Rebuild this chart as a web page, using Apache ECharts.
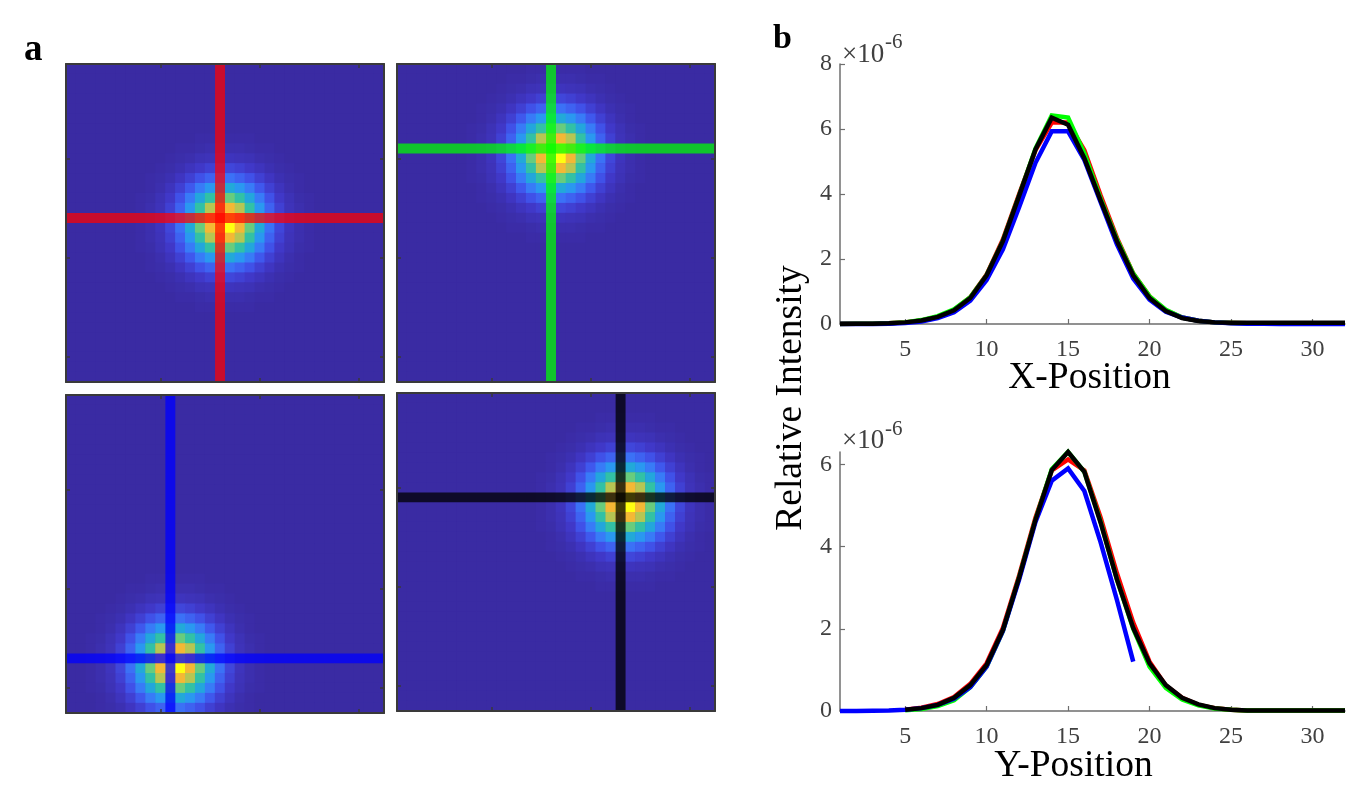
<!DOCTYPE html>
<html><head><meta charset="utf-8">
<style>html,body{margin:0;padding:0;background:#fff}#c{width:1346px;height:807px}</style>
<script src="https://cdn.jsdelivr.net/npm/echarts@6/dist/echarts.min.js"></script>
</head><body><div id="c"></div>
<script>
// Spot intensity (percent of peak), rows/cols -9..+8 around the brightest cell
const spotRows = [
 [0,0,0,0,0,0,1,1,1,1,1,1,0,0,0,0,0,0],
 [0,0,0,0,1,1,2,3,3,3,3,2,1,1,0,0,0,0],
 [0,0,0,1,2,3,5,6,7,7,6,5,3,2,1,0,0,0],
 [0,0,1,2,4,7,10,13,15,15,13,10,7,4,2,1,0,0],
 [0,1,2,4,8,13,19,24,27,28,24,19,13,8,4,2,1,0],
 [0,1,3,7,13,21,31,40,45,46,40,31,21,13,7,3,1,0],
 [1,2,5,10,19,31,45,58,65,67,58,45,31,19,10,5,2,1],
 [1,3,6,13,24,40,58,76,84,87,76,58,40,24,13,6,3,1],
 [1,3,7,15,27,45,65,84,94,97,84,65,45,27,15,7,3,1],
 [1,3,7,15,28,46,67,87,97,100,87,67,46,28,15,7,3,1],
 [1,3,6,13,24,40,58,76,84,87,76,58,40,24,13,6,3,1],
 [1,2,5,10,19,31,45,58,65,67,58,45,31,19,10,5,2,1],
 [0,1,3,7,13,21,31,40,45,46,40,31,21,13,7,3,1,0],
 [0,1,2,4,8,13,19,24,27,28,24,19,13,8,4,2,1,0],
 [0,0,1,2,4,7,10,13,15,15,13,10,7,4,2,1,0,0],
 [0,0,0,1,2,3,5,6,7,7,6,5,3,2,1,0,0,0],
 [0,0,0,0,1,1,2,3,3,3,3,2,1,1,0,0,0,0],
 [0,0,0,0,0,0,1,1,1,1,1,1,0,0,0,0,0,0]
];
const cells = Array.from({length:32},(_,i)=>String(i+1));
const peakCols = [16,16,11,23];   // 0-based column of brightest cell per panel
const peakRows = [16,9,27,11];    // 0-based row of brightest cell per panel
const crossCols = [15,15,10,22];
const crossRows = [15,8,26,10];
const crossColors = ['rgba(255,0,0,0.72)','rgba(0,255,0,0.72)','rgba(0,0,255,0.75)','rgba(0,0,0,0.75)'];
const palette = ['#3a2ba3','#4038c8','#4054ec','#3a78f8','#2a98f0','#1cb4c8','#38c49c','#7cd070','#dcc040','#ffb430','#ffff10'];

const position = [1,2,3,4,5,6,7,8,9,10,11,12,13,14,15,16,17,18,19,20,21,22,23,24,25,26,27,28,29,30,31,32];
const xRed   = [0,.005,.01,.02,.05,.11,.22,.43,.82,1.52,2.6,4.0,5.35,6.2,6.2,5.35,3.95,2.65,1.55,.85,.42,.2,.1,.05,.03,.02,.02,.02,.02,.02,.02,.02];
const xGreen = [0,.005,.01,.02,.05,.12,.24,.45,.82,1.5,2.55,3.95,5.4,6.42,6.35,5.25,3.85,2.6,1.55,.85,.44,.2,.1,.05,.03,.02,.02,.02,.02,.02,.02,.02];
const xBlue  = [0,0,0,.01,.03,.08,.18,.36,.72,1.35,2.3,3.6,4.96,5.93,5.93,5.05,3.75,2.45,1.4,.75,.38,.2,.1,.05,.02,.01,.01,0,0,0,0,0];
const xBlack = [.01,.01,.01,.02,.05,.11,.22,.42,.8,1.5,2.55,3.95,5.37,6.35,6.13,5.1,3.8,2.55,1.5,.8,.4,.18,.09,.05,.04,.04,.04,.04,.04,.04,.04,.04];
const yPos5 = position.slice(4);
const yRed   = [.03,.08,.17,.34,.66,1.16,2.02,3.3,4.7,5.85,6.12,5.85,4.7,3.35,2.15,1.2,.62,.32,.15,.07,.03,.015,.01,.01,.01,.01,.01,.01];
const yGreen = [.02,.05,.12,.26,.58,1.08,1.95,3.25,4.65,5.88,6.3,5.82,4.6,3.2,2.0,1.08,.56,.28,.14,.06,.03,.015,.01,.01,.01,.01,.01,.01];
const yBlue  = [0,0,.005,.01,.03,.07,.15,.3,.58,1.08,1.95,3.2,4.6,5.6,5.9,5.35,4.1,2.7,1.2];
const yBlack = [.03,.07,.15,.32,.63,1.12,1.97,3.25,4.65,5.86,6.3,5.82,4.58,3.2,2.02,1.16,.63,.32,.16,.07,.03,.015,.01,.01,.01,.01,.01,.01];
const xTicks = [5,10,15,20,25,30];
const yTicksTop = [0,2,4,6,8];
const yTicksBottom = [0,2,4,6];

const panelBoxes = [[66,64],[397,64],[66,395],[397,393]];
const PW=318, PH=318;
const grid=[], xAxis=[], yAxis=[], series=[];
const tickEvery = i => (i+1)%10===0;
panelBoxes.forEach((b,p)=>{
  grid.push({left:b[0],top:b[1],width:PW,height:PH,show:true,backgroundColor:palette[0],borderWidth:0});
  ['bottom','top'].forEach(pos=>xAxis.push({type:'category',data:cells,gridIndex:p,position:pos,
    axisLine:{show:true,onZero:false,lineStyle:{color:'#3a3a3a',width:2}},
    axisTick:{show:true,inside:true,length:4,alignWithLabel:true,interval:tickEvery,lineStyle:{color:'#3a3a3a',width:1.5}},
    axisLabel:{show:false},splitLine:{show:false},z:5}));
  ['left','right'].forEach(pos=>yAxis.push({type:'category',data:cells,inverse:true,gridIndex:p,position:pos,
    axisLine:{show:true,onZero:false,lineStyle:{color:'#3a3a3a',width:2}},
    axisTick:{show:true,inside:true,length:4,alignWithLabel:true,interval:tickEvery,lineStyle:{color:'#3a3a3a',width:1.5}},
    axisLabel:{show:false},splitLine:{show:false},z:5}));
  const data=[];
  for(let r=0;r<32;r++)for(let c=0;c<32;c++){
    const kr=r-peakRows[p]+9, kc=c-peakCols[p]+9;
    const v=(kr>=0&&kr<18&&kc>=0&&kc<18)?spotRows[kr][kc]:0;
    data.push([c,r,v]);
  }
  series.push({type:'heatmap',xAxisIndex:p*2,yAxisIndex:p*2,data,animation:false,silent:true,progressive:0,itemStyle:{borderWidth:0}});
});
// crosshair bars: one cell wide, spanning the panel
panelBoxes.forEach((b,p)=>{
  series.push({type:'custom',xAxisIndex:p*2,yAxisIndex:p*2,silent:true,animation:false,clip:false,z:3,
    data:[[crossCols[p],crossRows[p]]],
    renderItem:(params,api)=>{
      const cs=params.coordSys, pt=api.coord([api.value(0),api.value(1)]), sz=api.size([1,1]);
      const style={fill:crossColors[p]};
      return {type:'group',children:[
        {type:'rect',shape:{x:pt[0]-sz[0]/2,y:cs.y,width:sz[0],height:cs.height},style},
        {type:'rect',shape:{x:cs.x,y:pt[1]-sz[1]/2,width:cs.width,height:sz[1]},style}]};
    }});
});

const serif='"Liberation Serif","Times New Roman",serif';
function plot(axisIndex,gridIndex,top,height,yMax,yTicks,title,padR,nameGap,lines){
  grid.push({left:840,top,width:505,height});
  const axc='#6e6e6e';
  xAxis.push({type:'value',gridIndex,min:1,max:32,
    name:title,nameLocation:'middle',nameGap,nameMoveOverlap:false,nameTextStyle:{fontFamily:serif,fontSize:37.5,color:'#000',padding:[0,padR,0,0]},
    axisLine:{show:true,onZero:false,lineStyle:{color:axc,width:1.5}},
    axisTick:{show:true,inside:true,length:5,customValues:xTicks,lineStyle:{color:axc,width:1.2}},
    axisLabel:{fontFamily:serif,fontSize:24,color:'#404040',margin:14,customValues:xTicks},
    splitLine:{show:false}});
  yAxis.push({type:'value',gridIndex,min:0,max:yMax,
    axisLine:{show:true,onZero:false,lineStyle:{color:axc,width:1.5}},
    axisTick:{show:true,inside:true,length:5,customValues:yTicks,lineStyle:{color:axc,width:1.2}},
    axisLabel:{fontFamily:serif,fontSize:24,color:'#404040',margin:8,padding:[3,0,0,0],customValues:yTicks},
    splitLine:{show:false}});
  lines.forEach(([xs,ys,color,name])=>series.push({type:'line',name,xAxisIndex:axisIndex,yAxisIndex:axisIndex,
    data:ys.map((v,i)=>[xs[i],v]),showSymbol:false,symbol:'none',clip:false,animation:false,silent:true,
    lineStyle:{color,width:4.5,join:'miter'}}));
}
plot(8,4,64,260,8,yTicksTop,'X-Position',6,35,[
  [position,xRed,'#ff0000','Red'],[position,xGreen,'#00ff00','Green'],[position,xBlue,'#0000ff','Blue'],[position,xBlack,'#000000','Black']]);
plot(9,5,452,259,6.3,yTicksBottom,'Y-Position',38,36,[
  [yPos5,yRed,'#ff0000','Red'],[yPos5,yGreen,'#00ff00','Green'],[position,yBlue,'#0000ff','Blue'],[yPos5,yBlack,'#000000','Black']]);

const t=(x,y,text,font,color)=>({type:'text',x,y,silent:true,z:20,
  style:{text,font,fill:color,textAlign:'left',textVerticalAlign:'middle'}});
const graphic=[
  t(24,50,'a','bold 37px '+serif,'#000'),
  t(773,39,'b','bold 34px '+serif,'#000'),
  t(842,55,'×10','27px '+serif,'#404040'),
  t(885,42,'-6','21px '+serif,'#404040'),
  t(842,441,'×10','27px '+serif,'#404040'),
  t(885,429,'-6','21px '+serif,'#404040'),
  {type:'text',x:791,y:398,rotation:Math.PI/2,silent:true,z:20,
   style:{text:'Relative Intensity',font:'37.5px '+serif,fill:'#000',textAlign:'center',textVerticalAlign:'middle'}}
];

const chart=echarts.init(document.getElementById('c'),null,{renderer:'canvas'});
chart.setOption({backgroundColor:'#fff',animation:false,grid,xAxis,yAxis,series,graphic,
  visualMap:{show:false,type:'continuous',min:0,max:100,seriesIndex:[0,1,2,3],inRange:{color:palette}}});
</script></body></html>
